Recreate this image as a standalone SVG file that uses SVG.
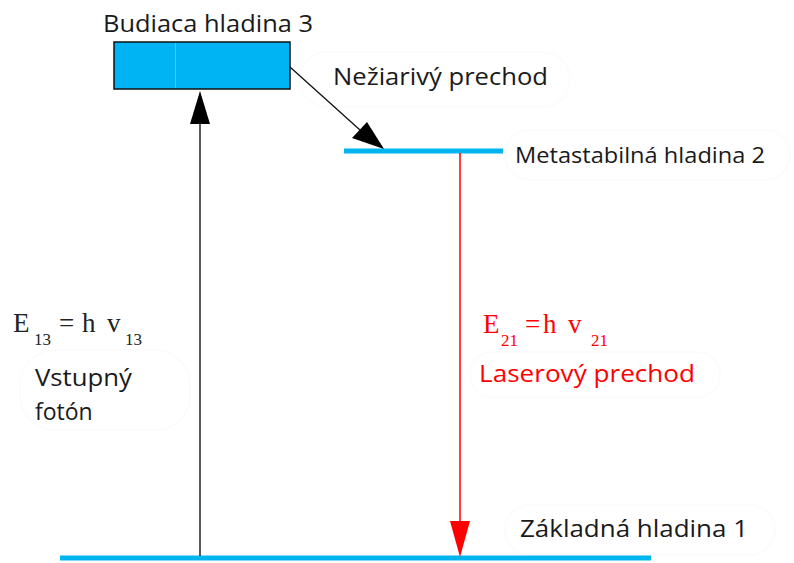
<svg xmlns="http://www.w3.org/2000/svg" width="794" height="563" viewBox="0 0 794 563">
<style>
.lbl{font-family:"Open Sans","Liberation Sans",sans-serif;fill:#1a1a1a}
.red{fill:#ff0000}
.eq{font-family:"Liberation Serif","DejaVu Serif",serif}
.bub{fill:none;stroke:#fbfbfb;stroke-width:1.5}
.lvl{stroke:#00b4f0;stroke-width:5}
</style>
<defs>
<clipPath id="clipF"><rect x="0" y="360" width="200" height="63"/></clipPath>
</defs>
<rect width="794" height="563" fill="#ffffff"/>
<g id="bubbles">
<rect class="bub" x="300" y="52" width="270" height="55" rx="27"/>
<rect class="bub" x="505" y="130" width="285" height="50" rx="25"/>
<rect class="bub" x="20" y="350" width="170" height="80" rx="35"/>
<rect class="bub" x="470" y="352" width="250" height="45" rx="22"/>
<rect class="bub" x="505" y="505" width="270" height="50" rx="25"/>
</g>
<g id="level3">
<rect x="114" y="42" width="176" height="47" fill="#00b4f4" stroke="#111" stroke-width="1.5"/>
<line x1="175.5" y1="43" x2="175.5" y2="88" stroke="#4cc8f6" stroke-width="1"/>
<text class="lbl" x="103" y="32" font-size="23" textLength="210" lengthAdjust="spacingAndGlyphs">Budiaca hladina 3</text>
</g>
<g id="level2">
<line class="lvl" x1="344" y1="151" x2="503" y2="151"/>
<text class="lbl" x="515" y="163" font-size="21" textLength="250" lengthAdjust="spacingAndGlyphs">Metastabilná hladina 2</text>
</g>
<g id="level1">
<line class="lvl" x1="60" y1="558" x2="651" y2="558"/>
<text class="lbl" x="520" y="537" font-size="23" textLength="228" lengthAdjust="spacingAndGlyphs">Základná hladina 1</text>
</g>
<g id="connectors">
<line x1="200" y1="556" x2="200" y2="120" stroke="#222" stroke-width="1.5"/>
<polygon points="200,91 210,124 190,124" fill="#000"/>
<line x1="290" y1="67" x2="360" y2="130" stroke="#111" stroke-width="1.3"/>
<polygon points="384,149 352,138 367,122" fill="#000"/>
<line x1="460" y1="153" x2="460" y2="525" stroke="#ff0000" stroke-width="1.5"/>
<polygon points="460,557 450,521 470,521" fill="#ff0000"/>
</g>
<g id="label-nonrad">
<text class="lbl" x="333" y="85" font-size="23" textLength="215" lengthAdjust="spacingAndGlyphs">Nežiarivý prechod</text>
</g>
<g id="label-input">
<text class="eq" y="332" font-size="27" fill="#222"><tspan x="13">E</tspan><tspan x="34" y="345" font-size="17">13</tspan><tspan x="59" y="332">=</tspan><tspan x="82">h</tspan><tspan x="107">v</tspan><tspan x="125" y="345" font-size="17">13</tspan></text>
<text class="lbl" x="35" y="386" font-size="23" textLength="97" lengthAdjust="spacingAndGlyphs">Vstupný</text>
<text class="lbl" x="35" y="420" font-size="23" clip-path="url(#clipF)">fotón</text>
</g>
<g id="label-laser">
<text class="eq red" y="333" font-size="27"><tspan x="483">E</tspan><tspan x="501" y="346" font-size="17">21</tspan><tspan x="525" y="333">=</tspan><tspan x="543">h</tspan><tspan x="568">v</tspan><tspan x="591" y="346" font-size="17">21</tspan></text>
<text class="lbl red" x="479" y="382" font-size="23" textLength="216" lengthAdjust="spacingAndGlyphs">Laserový prechod</text>
</g>
</svg>
